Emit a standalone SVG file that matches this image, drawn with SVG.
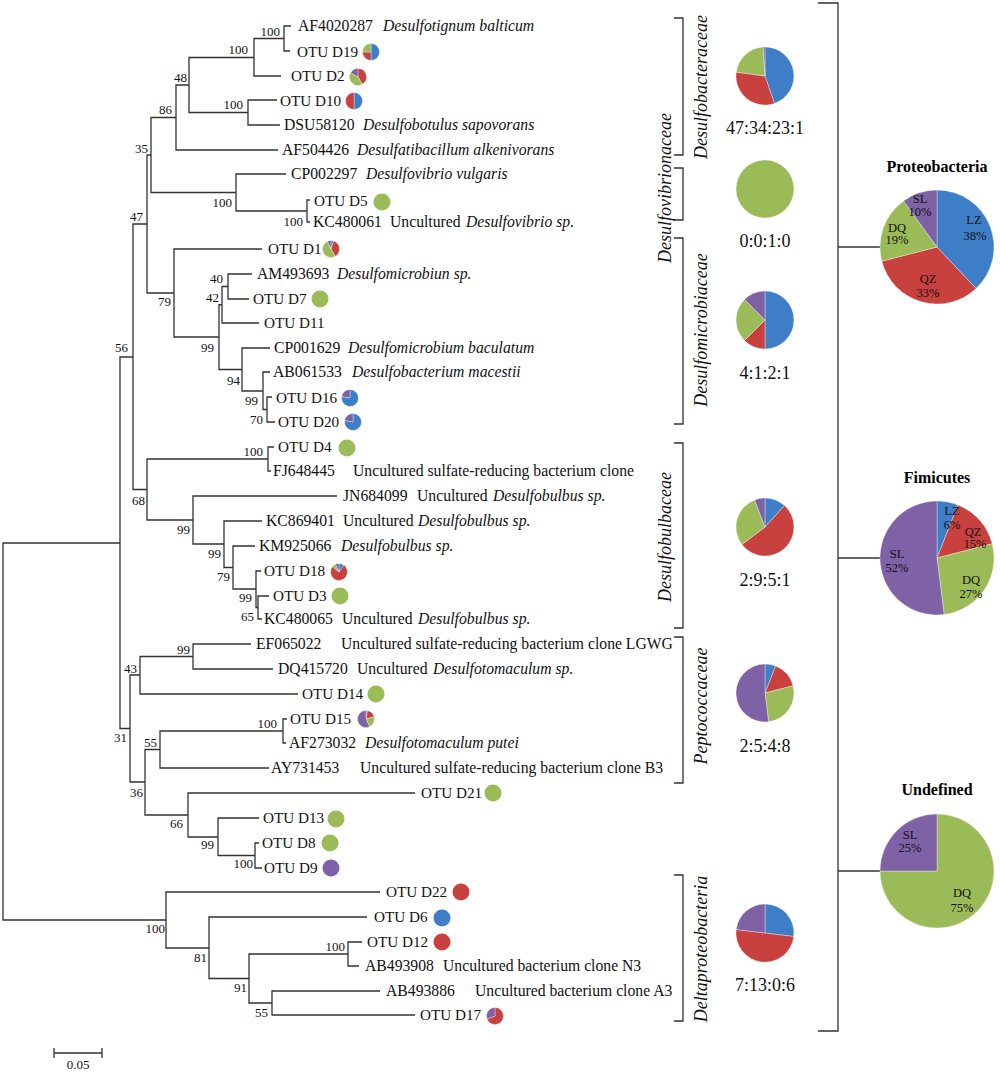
<svg xmlns="http://www.w3.org/2000/svg" width="1000" height="1072" viewBox="0 0 1000 1072">
<style>
.t{font-family:"Liberation Serif","Times New Roman",serif;font-size:15.7px;fill:#111}
.o{font-size:15.2px}
.i{font-style:italic}
.bs{font-family:"Liberation Serif","Times New Roman",serif;font-size:13px;fill:#111;text-anchor:end}
.r{font-family:"Liberation Serif","Times New Roman",serif;font-size:18px;fill:#111;text-anchor:middle}
.f{font-family:"Liberation Serif","Times New Roman",serif;font-size:18px;font-style:italic;fill:#111;text-anchor:middle}
.h{font-family:"Liberation Serif","Times New Roman",serif;font-size:16px;font-weight:bold;fill:#000;text-anchor:middle}
.p{font-family:"Liberation Serif","Times New Roman",serif;font-size:12.5px;fill:#111;text-anchor:middle}
.ln{fill:none;stroke:#333;stroke-width:1.3}
.lz{fill:#3E7EC7}.qz{fill:#C8413F}.dq{fill:#9BBB59}.sl{fill:#7F61A6}
.pie path,.pie circle{stroke:#fff;stroke-width:0.5;stroke-opacity:0.7}
</style>
<rect width="1000" height="1072" fill="#fff"/>

<g id="connectors" class="ln">
<path d="M291,26 H284 V51 H290"/>
<path d="M284,38.5 H254 V76 H281"/>
<path d="M277,100 H248 V125 H280"/>
<path d="M254,57.5 H189 V112.5 H248"/>
<path d="M189,85 H176 V150 H278"/>
<path d="M310,200 H307 V222 H310"/>
<path d="M286,174 H236 V211 H307"/>
<path d="M176,117.5 H151 V192.5 H236"/>
<path d="M252,274 H228 V299 H249"/>
<path d="M228,286.5 H222 V323 H259"/>
<path d="M272,397 H267 V422 H275"/>
<path d="M270,372 H263 V409.5 H267"/>
<path d="M270,348 H242 V391 H263"/>
<path d="M222,304.75 H219 V369.5 H242"/>
<path d="M262,249 H174 V337 H219"/>
<path d="M151,155 H147 V293 H174"/>
<path d="M274,447 H268 V471 H271"/>
<path d="M269,596 H258 V619 H262"/>
<path d="M261,571 H256 V607.5 H258"/>
<path d="M255,546 H233 V589 H256"/>
<path d="M262,521 H224 V567.5 H233"/>
<path d="M337,496 H193 V544 H224"/>
<path d="M268,459 H147 V520 H193"/>
<path d="M147,224 H133 V489.5 H147"/>
<path d="M251,644 H193 V669 H273"/>
<path d="M193,656.5 H140 V694 H298"/>
<path d="M287,719 H283 V743 H286"/>
<path d="M283,731 H160 V768 H269"/>
<path d="M259,843 H255 V868 H262"/>
<path d="M259,818 H218 V855.5 H255"/>
<path d="M415,793 H188 V837 H218"/>
<path d="M160,749.5 H145 V815 H188"/>
<path d="M140,675 H130 V782 H145"/>
<path d="M133,357 H120 V728.5 H130"/>
<path d="M362,942 H348 V966 H359"/>
<path d="M380,991 H272 V1015 H415"/>
<path d="M348,954 H249 V1003 H272"/>
<path d="M367,917 H209 V978.5 H249"/>
<path d="M380,892 H166 V948 H209"/>
<path d="M120,543 H3 V920 H166"/>
<!-- family brackets -->
<path d="M674,18 H683 V155 H674"/>
<path d="M674,168 H683 V220 H674"/>
<path d="M674,238 H683 V424 H674"/>
<path d="M674,443 H683 V628 H674"/>
<path d="M674,637 H683 V783 H674"/>
<path d="M674,875 H683 V1021 H674"/>
<!-- phylum bracket -->
<path d="M818,3 H838 V1031 H818"/>
<path d="M838,247 H880"/>
<path d="M838,558 H880"/>
<path d="M838,871 H880"/>
<!-- scale bar -->
<path d="M54,1053 H102 M54,1048 V1058 M102,1048 V1058"/>
</g>

<g id="bootstrap">
<text class="bs" x="280" y="35.5">100</text>
<text class="bs" x="248" y="53.5">100</text>
<text class="bs" x="187" y="81.5">48</text>
<text class="bs" x="243" y="108.5">100</text>
<text class="bs" x="172" y="113.5">86</text>
<text class="bs" x="148" y="152.5">35</text>
<text class="bs" x="232" y="206.5">100</text>
<text class="bs" x="303" y="225.5">100</text>
<text class="bs" x="143" y="220.5">47</text>
<text class="bs" x="171" y="305.5">79</text>
<text class="bs" x="223" y="282.5">40</text>
<text class="bs" x="219" y="301.5">42</text>
<text class="bs" x="214" y="351.5">99</text>
<text class="bs" x="240" y="384.5">94</text>
<text class="bs" x="258" y="404.5">99</text>
<text class="bs" x="263" y="423.5">70</text>
<text class="bs" x="128" y="351.5">56</text>
<text class="bs" x="263" y="455.5">100</text>
<text class="bs" x="145" y="504.5">68</text>
<text class="bs" x="190" y="533.5">99</text>
<text class="bs" x="221" y="557.5">99</text>
<text class="bs" x="230" y="580.5">79</text>
<text class="bs" x="252" y="601.5">99</text>
<text class="bs" x="254" y="620.5">65</text>
<text class="bs" x="190" y="653.5">99</text>
<text class="bs" x="137" y="672.5">43</text>
<text class="bs" x="127" y="741.5">31</text>
<text class="bs" x="277" y="727.5">100</text>
<text class="bs" x="157" y="746.5">55</text>
<text class="bs" x="143" y="796.5">36</text>
<text class="bs" x="183" y="827.5">66</text>
<text class="bs" x="214" y="848.5">99</text>
<text class="bs" x="253" y="867.5">100</text>
<text class="bs" x="165" y="932.5">100</text>
<text class="bs" x="207" y="961.5">81</text>
<text class="bs" x="247" y="991.5">91</text>
<text class="bs" x="345" y="950.5">100</text>
<text class="bs" x="268" y="1016.5">55</text>
</g>

<g id="leaf-AF4020287"><text class="t" x="298" y="31">AF4020287<tspan class="i" x="383">Desulfotignum balticum</tspan></text></g>
<g id="leaf-D19"><text class="t o" x="297" y="57">OTU D19</text>
<g class="pie" transform="translate(371,52)"><path class="lz" d="M0,0 V-8.5 A8.5,8.5 0 0 1 0,8.5 Z"/><path class="qz" d="M0,0 V8.5 A8.5,8.5 0 0 1 -8.5,0 Z"/><path class="dq" d="M0,0 H-8.5 A8.5,8.5 0 0 1 0,-8.5 Z"/></g></g>
<g id="leaf-D2"><text class="t o" x="291" y="81">OTU D2</text>
<g class="pie" transform="translate(358,77)"><path class="qz" d="M0,0 V-8.5 A8.5 8.5 0 0 1 4.25,7.36 Z"/><path class="dq" d="M0,0 L4.25,7.36 A8.5 8.5 0 0 1 -7.36,-4.25 Z"/><path class="sl" d="M0,0 L-7.36,-4.25 A8.5 8.5 0 0 1 0,-8.5 Z"/></g></g>
<g id="leaf-D10"><text class="t o" x="280" y="106">OTU D10</text>
<g class="pie" transform="translate(354,101)"><path class="lz" d="M0,0 V-8.5 A8.5,8.5 0 0 1 0,8.5 Z"/><path class="qz" d="M0,0 V8.5 A8.5 8.5 0 0 1 0,-8.5 Z"/></g></g>
<g id="leaf-DSU58120"><text class="t" x="284" y="130">DSU58120<tspan class="i" x="363">Desulfobotulus sapovorans</tspan></text></g>
<g id="leaf-AF504426"><text class="t" x="282" y="155">AF504426<tspan class="i" x="357">Desulfatibacillum alkenivorans</tspan></text></g>
<g id="leaf-CP002297"><text class="t" x="291" y="179">CP002297<tspan class="i" x="366">Desulfovibrio vulgaris</tspan></text></g>
<g id="leaf-D5"><text class="t o" x="314" y="206">OTU D5</text><circle class="dq" cx="382" cy="202" r="8.5"/></g>
<g id="leaf-KC480061"><text class="t" x="313" y="227">KC480061<tspan x="390">Uncultured</tspan><tspan class="i" x="466">Desulfovibrio sp.</tspan></text></g>
<g id="leaf-D1"><text class="t o" x="268" y="254">OTU D1</text>
<g class="pie" transform="translate(331,249)"><path class="lz" d="M0,0 V-8.5 A8.5 8.5 0 0 1 2.63,-8.08 Z"/><path class="qz" d="M0,0 L2.63,-8.08 A8.5 8.5 0 0 1 4.25,7.36 Z"/><path class="dq" d="M0,0 L4.25,7.36 A8.5 8.5 0 1 1 -3.59,-7.70 Z"/><path class="sl" d="M0,0 L-3.59,-7.70 A8.5 8.5 0 0 1 0,-8.5 Z"/></g></g>
<g id="leaf-AM493693"><text class="t" x="257" y="279">AM493693<tspan class="i" x="337">Desulfomicrobiun sp.</tspan></text></g>
<g id="leaf-D7"><text class="t o" x="253" y="304">OTU D7</text><circle class="dq" cx="320" cy="299" r="8.5"/></g>
<g id="leaf-D11"><text class="t o" x="264" y="328">OTU D11</text></g>
<g id="leaf-CP001629"><text class="t" x="274" y="353">CP001629<tspan class="i" x="348">Desulfomicrobium baculatum</tspan></text></g>
<g id="leaf-AB061533"><text class="t" x="273" y="377">AB061533<tspan class="i" x="352">Desulfobacterium macestii</tspan></text></g>
<g id="leaf-D16"><text class="t o" x="276" y="403">OTU D16</text>
<g class="pie" transform="translate(350,398)"><path class="lz" d="M0,0 V-8.5 A8.5 8.5 0 1 1 -8.37,-1.48 Z"/><path class="sl" d="M0,0 L-8.37,-1.48 A8.5 8.5 0 0 1 0,-8.5 Z"/></g></g>
<g id="leaf-D20"><text class="t o" x="278" y="427">OTU D20</text>
<g class="pie" transform="translate(353,422)"><path class="lz" d="M0,0 V-8.5 A8.5 8.5 0 1 1 -8.37,-1.48 Z"/><path class="sl" d="M0,0 L-8.37,-1.48 A8.5 8.5 0 0 1 0,-8.5 Z"/></g></g>
<g id="leaf-D4"><text class="t o" x="278" y="452">OTU D4</text><circle class="dq" cx="347" cy="448" r="8.5"/></g>
<g id="leaf-FJ648445"><text class="t" x="273" y="476">FJ648445<tspan x="353">Uncultured sulfate-reducing bacterium clone</tspan></text></g>
<g id="leaf-JN684099"><text class="t" x="343" y="501">JN684099<tspan x="417">Uncultured</tspan><tspan class="i" x="493">Desulfobulbus sp.</tspan></text></g>
<g id="leaf-KC869401"><text class="t" x="266" y="526">KC869401<tspan x="343">Uncultured</tspan><tspan class="i" x="418">Desulfobulbus sp.</tspan></text></g>
<g id="leaf-KM925066"><text class="t" x="259" y="551">KM925066<tspan class="i" x="341">Desulfobulbus sp.</tspan></text></g>
<g id="leaf-D18"><text class="t o" x="264" y="576">OTU D18</text>
<g class="pie" transform="translate(339,572)"><path class="lz" d="M0,0 V-8.5 A8.5 8.5 0 0 1 4.88,-6.96 Z"/><path class="qz" d="M0,0 L4.88,-6.96 A8.5 8.5 0 1 1 -6.51,-5.46 Z"/><path class="dq" d="M0,0 L-6.51,-5.46 A8.5 8.5 0 0 1 -3.59,-7.70 Z"/><path class="sl" d="M0,0 L-3.59,-7.70 A8.5 8.5 0 0 1 0,-8.5 Z"/></g></g>
<g id="leaf-D3"><text class="t o" x="273" y="601">OTU D3</text><circle class="dq" cx="340" cy="596" r="8.5"/></g>
<g id="leaf-KC480065"><text class="t" x="264" y="624">KC480065<tspan x="342">Uncultured</tspan><tspan class="i" x="418">Desulfobulbus sp.</tspan></text></g>
<g id="leaf-EF065022"><text class="t" x="256" y="649">EF065022<tspan x="341">Uncultured sulfate-reducing bacterium clone LGWG</tspan></text></g>
<g id="leaf-DQ415720"><text class="t" x="278" y="674">DQ415720<tspan x="357">Uncultured</tspan><tspan class="i" x="433">Desulfotomaculum sp.</tspan></text></g>
<g id="leaf-D14"><text class="t o" x="302" y="699">OTU D14</text><circle class="dq" cx="376" cy="694" r="8.5"/></g>
<g id="leaf-D15"><text class="t o" x="290" y="724">OTU D15</text>
<g class="pie" transform="translate(366,719)"><path class="lz" d="M0,0 V-8.5 A8.5 8.5 0 0 1 1.48,-8.37 Z"/><path class="qz" d="M0,0 L1.48,-8.37 A8.5 8.5 0 0 1 8.21,-2.20 Z"/><path class="dq" d="M0,0 L8.21,-2.20 A8.5 8.5 0 0 1 3.59,7.70 Z"/><path class="sl" d="M0,0 L3.59,7.70 A8.5 8.5 0 1 1 0,-8.5 Z"/></g></g>
<g id="leaf-AF273032"><text class="t" x="289" y="748">AF273032<tspan class="i" x="365">Desulfotomaculum putei</tspan></text></g>
<g id="leaf-AY731453"><text class="t" x="271" y="773">AY731453<tspan x="360">Uncultured sulfate-reducing bacterium clone B3</tspan></text></g>
<g id="leaf-D21"><text class="t o" x="421" y="798">OTU D21</text><circle class="dq" cx="493" cy="793" r="8.5"/></g>
<g id="leaf-D13"><text class="t o" x="263" y="823">OTU D13</text><circle class="dq" cx="336" cy="819" r="8.5"/></g>
<g id="leaf-D8"><text class="t o" x="262" y="848">OTU D8</text><circle class="dq" cx="330" cy="843" r="8.5"/></g>
<g id="leaf-D9"><text class="t o" x="264" y="873">OTU D9</text><circle class="sl" cx="331" cy="868" r="8.5"/></g>
<g id="leaf-D22"><text class="t o" x="386" y="897">OTU D22</text><circle class="qz" cx="461" cy="892" r="8.5"/></g>
<g id="leaf-D6"><text class="t o" x="374" y="922">OTU D6</text><circle class="lz" cx="442" cy="918" r="8.5"/></g>
<g id="leaf-D12"><text class="t o" x="367" y="947">OTU D12</text><circle class="qz" cx="442" cy="942" r="8.5"/></g>
<g id="leaf-AB493908"><text class="t" x="365" y="971">AB493908<tspan x="443">Uncultured bacterium clone N3</tspan></text></g>
<g id="leaf-AB493886"><text class="t" x="386" y="996">AB493886<tspan x="475">Uncultured bacterium clone A3</tspan></text></g>
<g id="leaf-D17"><text class="t o" x="420" y="1020">OTU D17</text>
<g class="pie" transform="translate(495,1016)"><path class="qz" d="M0,0 V-8.5 A8.5 8.5 0 1 1 -7.99,2.91 Z"/><path class="sl" d="M0,0 L-7.99,2.91 A8.5 8.5 0 0 1 0,-8.5 Z"/></g></g>

<g id="scale"><text class="p" x="78" y="1069" style="font-size:13px">0.05</text></g>

<g id="fam-Desulfobacteraceae">
<text class="f" transform="translate(707,87) rotate(-90)">Desulfobacteraceae</text>
<g class="pie" transform="translate(765,76)"><path class="lz" d="M0,0 V-29 A29 29 0 0 1 9.39,27.43 Z"/><path class="qz" d="M0,0 L9.39,27.43 A29 29 0 0 1 -28.74,-3.88 Z"/><path class="dq" d="M0,0 L-28.74,-3.88 A29 29 0 0 1 -1.72,-28.95 Z"/><path class="sl" d="M0,0 L-1.72,-28.95 A29 29 0 0 1 0,-29 Z"/></g>
<text class="r" x="765" y="134">47:34:23:1</text>
</g>
<g id="fam-Desulfovibrionaceae">
<text class="f" transform="translate(671,188) rotate(-90)">Desulfovibrionaceae</text>
<g class="pie"><circle class="dq" cx="765" cy="189" r="29"/></g>
<text class="r" x="765" y="247">0:0:1:0</text>
</g>
<g id="fam-Desulfomicrobiaceae">
<text class="f" transform="translate(707,330) rotate(-90)">Desulfomicrobiaceae</text>
<g class="pie" transform="translate(765,320)"><path class="lz" d="M0,0 V-29 A29 29 0 0 1 0,29 Z"/><path class="qz" d="M0,0 V29 A29 29 0 0 1 -20.51,20.51 Z"/><path class="dq" d="M0,0 L-20.51,20.51 A29 29 0 0 1 -20.51,-20.51 Z"/><path class="sl" d="M0,0 L-20.51,-20.51 A29 29 0 0 1 0,-29 Z"/></g>
<text class="r" x="765" y="379">4:1:2:1</text>
</g>
<g id="fam-Desulfobulbaceae">
<text class="f" transform="translate(671,537) rotate(-90)">Desulfobulbaceae</text>
<g class="pie" transform="translate(765,527)"><path class="lz" d="M0,0 V-29 A29 29 0 0 1 19.55,-21.41 Z"/><path class="qz" d="M0,0 L19.55,-21.41 A29 29 0 1 1 -23.14,17.49 Z"/><path class="dq" d="M0,0 L-23.14,17.49 A29 29 0 0 1 -10.49,-27.03 Z"/><path class="sl" d="M0,0 L-10.49,-27.03 A29 29 0 0 1 0,-29 Z"/></g>
<text class="r" x="765" y="586">2:9:5:1</text>
</g>
<g id="fam-Peptococcaceae">
<text class="f" transform="translate(707,706) rotate(-90)">Peptococcaceae</text>
<g class="pie" transform="translate(765,693)"><path class="lz" d="M0,0 V-29 A29 29 0 0 1 10.67,-26.96 Z"/><path class="qz" d="M0,0 L10.67,-26.96 A29 29 0 0 1 28.09,-7.21 Z"/><path class="dq" d="M0,0 L28.09,-7.21 A29 29 0 0 1 3.63,28.77 Z"/><path class="sl" d="M0,0 L3.63,28.77 A29 29 0 1 1 0,-29 Z"/></g>
<text class="r" x="765" y="752">2:5:4:8</text>
</g>
<g id="fam-Deltaproteobacteria">
<text class="f" transform="translate(707,949) rotate(-90)">Deltaproteobacteria</text>
<g class="pie" transform="translate(765,933)"><path class="lz" d="M0,0 V-29 A29 29 0 0 1 28.79,3.48 Z"/><path class="qz" d="M0,0 L28.79,3.48 A29 29 0 1 1 -28.79,-3.48 Z"/><path class="sl" d="M0,0 L-28.79,-3.48 A29 29 0 0 1 0,-29 Z"/></g>
<text class="r" x="765" y="991">7:13:0:6</text>
</g>

<g id="phylum-Proteobacteria">
<text class="h" x="937" y="172">Proteobacteria</text>
<g class="pie" transform="translate(937,247)"><path class="lz" d="M0,0 V-57 A57 57 0 0 1 39.02,41.55 Z"/><path class="qz" d="M0,0 L39.02,41.55 A57 57 0 0 1 -55.21,14.18 Z"/><path class="dq" d="M0,0 L-55.21,14.18 A57 57 0 0 1 -33.5,-46.11 Z"/><path class="sl" d="M0,0 L-33.5,-46.11 A57 57 0 0 1 0,-57 Z"/></g>
<text class="p" x="974" y="224">LZ</text><text class="p" x="975" y="240">38%</text>
<text class="p" x="928" y="283">QZ</text><text class="p" x="928" y="297">33%</text>
<text class="p" x="897" y="232">DQ</text><text class="p" x="897" y="244">19%</text>
<text class="p" x="920" y="203">SL</text><text class="p" x="920" y="216">10%</text>
</g>
<g id="phylum-Fimicutes">
<text class="h" x="937" y="483">Fimicutes</text>
<g class="pie" transform="translate(937,558)"><path class="lz" d="M0,0 V-57 A57 57 0 0 1 20.98,-52.99 Z"/><path class="qz" d="M0,0 L20.98,-52.99 A57 57 0 0 1 55.21,-14.18 Z"/><path class="dq" d="M0,0 L55.21,-14.18 A57 57 0 0 1 7.14,56.55 Z"/><path class="sl" d="M0,0 L7.14,56.55 A57 57 0 1 1 0,-57 Z"/></g>
<text class="p" x="952" y="515">LZ</text><text class="p" x="952" y="529">6%</text>
<text class="p" x="973" y="536">QZ</text><text class="p" x="975" y="548">15%</text>
<text class="p" x="971" y="584">DQ</text><text class="p" x="971" y="598">27%</text>
<text class="p" x="897" y="558">SL</text><text class="p" x="897" y="572">52%</text>
</g>
<g id="phylum-Undefined">
<text class="h" x="937" y="795">Undefined</text>
<g class="pie" transform="translate(937,871)"><path class="dq" d="M0,0 V-57 A57 57 0 1 1 -57,0 Z"/><path class="sl" d="M0,0 H-57 A57 57 0 0 1 0,-57 Z"/></g>
<text class="p" x="910" y="839">SL</text><text class="p" x="910" y="852">25%</text>
<text class="p" x="962" y="897">DQ</text><text class="p" x="962" y="912">75%</text>
</g>
</svg>
